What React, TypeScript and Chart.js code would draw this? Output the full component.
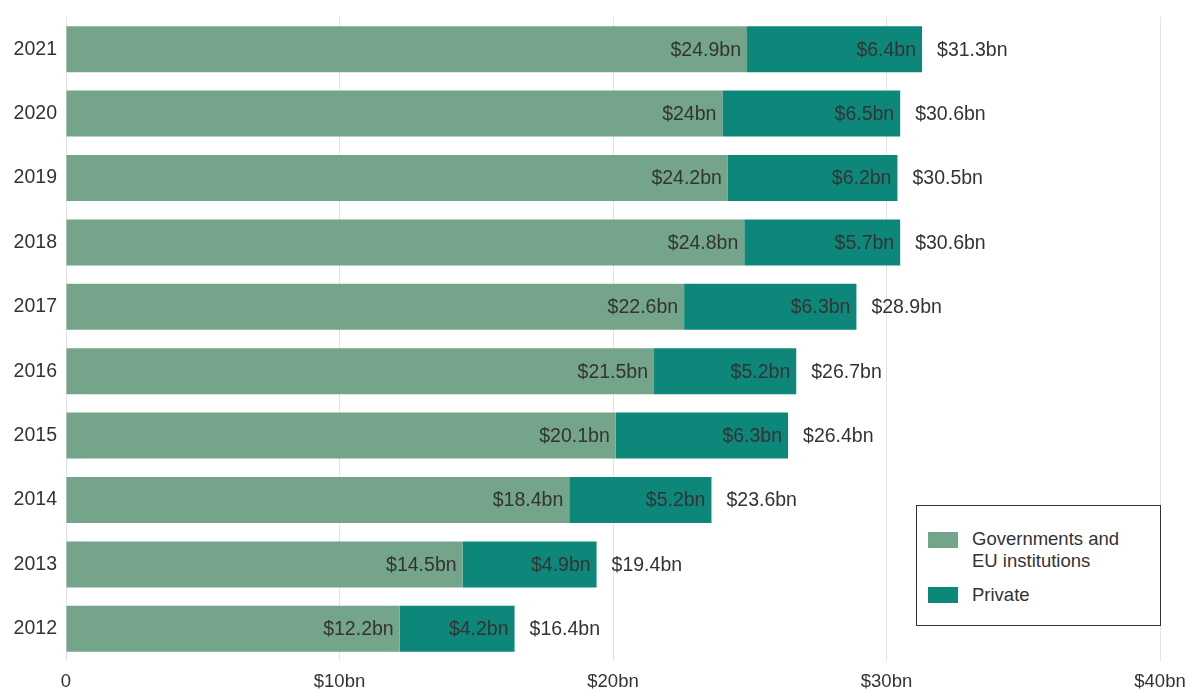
import React, { useEffect, useRef } from "react";
import { Chart, registerables } from "chart.js";

Chart.register(...registerables);

const years = ["2021", "2020", "2019", "2018", "2017", "2016", "2015", "2014", "2013", "2012"];
const government = [24.9, 24, 24.2, 24.8, 22.6, 21.5, 20.1, 18.4, 14.5, 12.2];
const privateFunding = [6.4, 6.5, 6.2, 5.7, 6.3, 5.2, 6.3, 5.2, 4.9, 4.2];
const totals = [31.3, 30.6, 30.5, 30.6, 28.9, 26.7, 26.4, 23.6, 19.4, 16.4];
const xTicks = [0, 10, 20, 30, 40];

const GOV_COLOR = "#74a48a";
const PRIV_COLOR = "#0e877b";
const TEXT = "#333333";
const FONT = "'Liberation Sans', Arial, sans-serif";

const fmt = (v: number) => (v === 0 ? "0" : `$${v}bn`);

const labelPlugin = {
  id: "barLabels",
  afterDatasetsDraw(chart: any) {
    const ctx = chart.ctx;
    ctx.save();
    ctx.font = `19.5px ${FONT}`;
    ctx.fillStyle = TEXT;
    ctx.textBaseline = "middle";
    chart.data.datasets.forEach((ds: any, di: number) => {
      const meta = chart.getDatasetMeta(di);
      meta.data.forEach((el: any, i: number) => {
        ctx.textAlign = "right";
        ctx.fillText(fmt(ds.data[i]), el.x - 6, el.y + 1);
        if (di === chart.data.datasets.length - 1) {
          ctx.textAlign = "left";
          ctx.fillText(fmt(totals[i]), el.x + 15, el.y + 1);
        }
      });
    });
    ctx.restore();
  },
};

export default function App() {
  const ref = useRef<HTMLCanvasElement | null>(null);
  useEffect(() => {
    document.body.style.margin = "0";
    const chart = new Chart(ref.current as HTMLCanvasElement, {
      type: "bar",
      data: {
        labels: years,
        datasets: [
          {
            label: "Governments and EU institutions",
            data: government,
            backgroundColor: GOV_COLOR,
            categoryPercentage: 1,
            barPercentage: 0.715,
          },
          {
            label: "Private",
            data: privateFunding,
            backgroundColor: PRIV_COLOR,
            categoryPercentage: 1,
            barPercentage: 0.715,
          },
        ],
      },
      options: {
        indexAxis: "y",
        animation: false,
        responsive: false,
        layout: { padding: { top: 17, right: 33, left: 0, bottom: 0 } },
        plugins: { legend: { display: false }, tooltip: { enabled: false } },
        scales: {
          x: {
            stacked: true,
            min: 0,
            max: 40,
            afterBuildTicks: (scale: any) => {
              scale.ticks = xTicks.map((v) => ({ value: v }));
            },
            afterFit: (scale: any) => {
              scale.height = 28;
              scale.paddingLeft = 0;
              scale.paddingRight = 0;
            },
            grid: { color: "#e2e2e2", lineWidth: 1, drawTicks: false },
            border: { display: false },
            ticks: {
              padding: 10,
              color: TEXT,
              font: { size: 18.5, family: FONT },
              callback: (v: any) => fmt(Number(v)),
            },
          },
          y: {
            stacked: true,
            afterFit: (scale: any) => {
              scale.width = 66;
              scale.paddingTop = 0;
              scale.paddingBottom = 0;
            },
            grid: { display: false, drawTicks: false },
            border: { display: false },
            ticks: {
              padding: 9,
              color: TEXT,
              font: { size: 19.5, family: FONT },
            },
          },
        },
      },
      plugins: [labelPlugin],
    } as any);
    return () => chart.destroy();
  }, []);

  const sw = (color: string, top: number) => (
    <div style={{ position: "absolute", left: 11, top, width: 30, height: 16, background: color }} />
  );

  return (
    <div style={{ position: "relative", width: 1193, height: 689, fontFamily: FONT }}>
      <canvas ref={ref} width={1193} height={689} style={{ display: "block" }} />
      <div
        style={{
          position: "absolute",
          left: 916,
          top: 505,
          width: 243,
          height: 119,
          border: "1px solid #333",
          background: "#fff",
          color: TEXT,
          fontSize: 18.5,
        }}
      >
        {sw(GOV_COLOR, 26)}
        <div style={{ position: "absolute", left: 55, top: 22, lineHeight: "22px" }}>
          Governments and
          <br />
          EU institutions
        </div>
        {sw(PRIV_COLOR, 81)}
        <div style={{ position: "absolute", left: 55, top: 78, lineHeight: "22px" }}>Private</div>
      </div>
    </div>
  );
}
